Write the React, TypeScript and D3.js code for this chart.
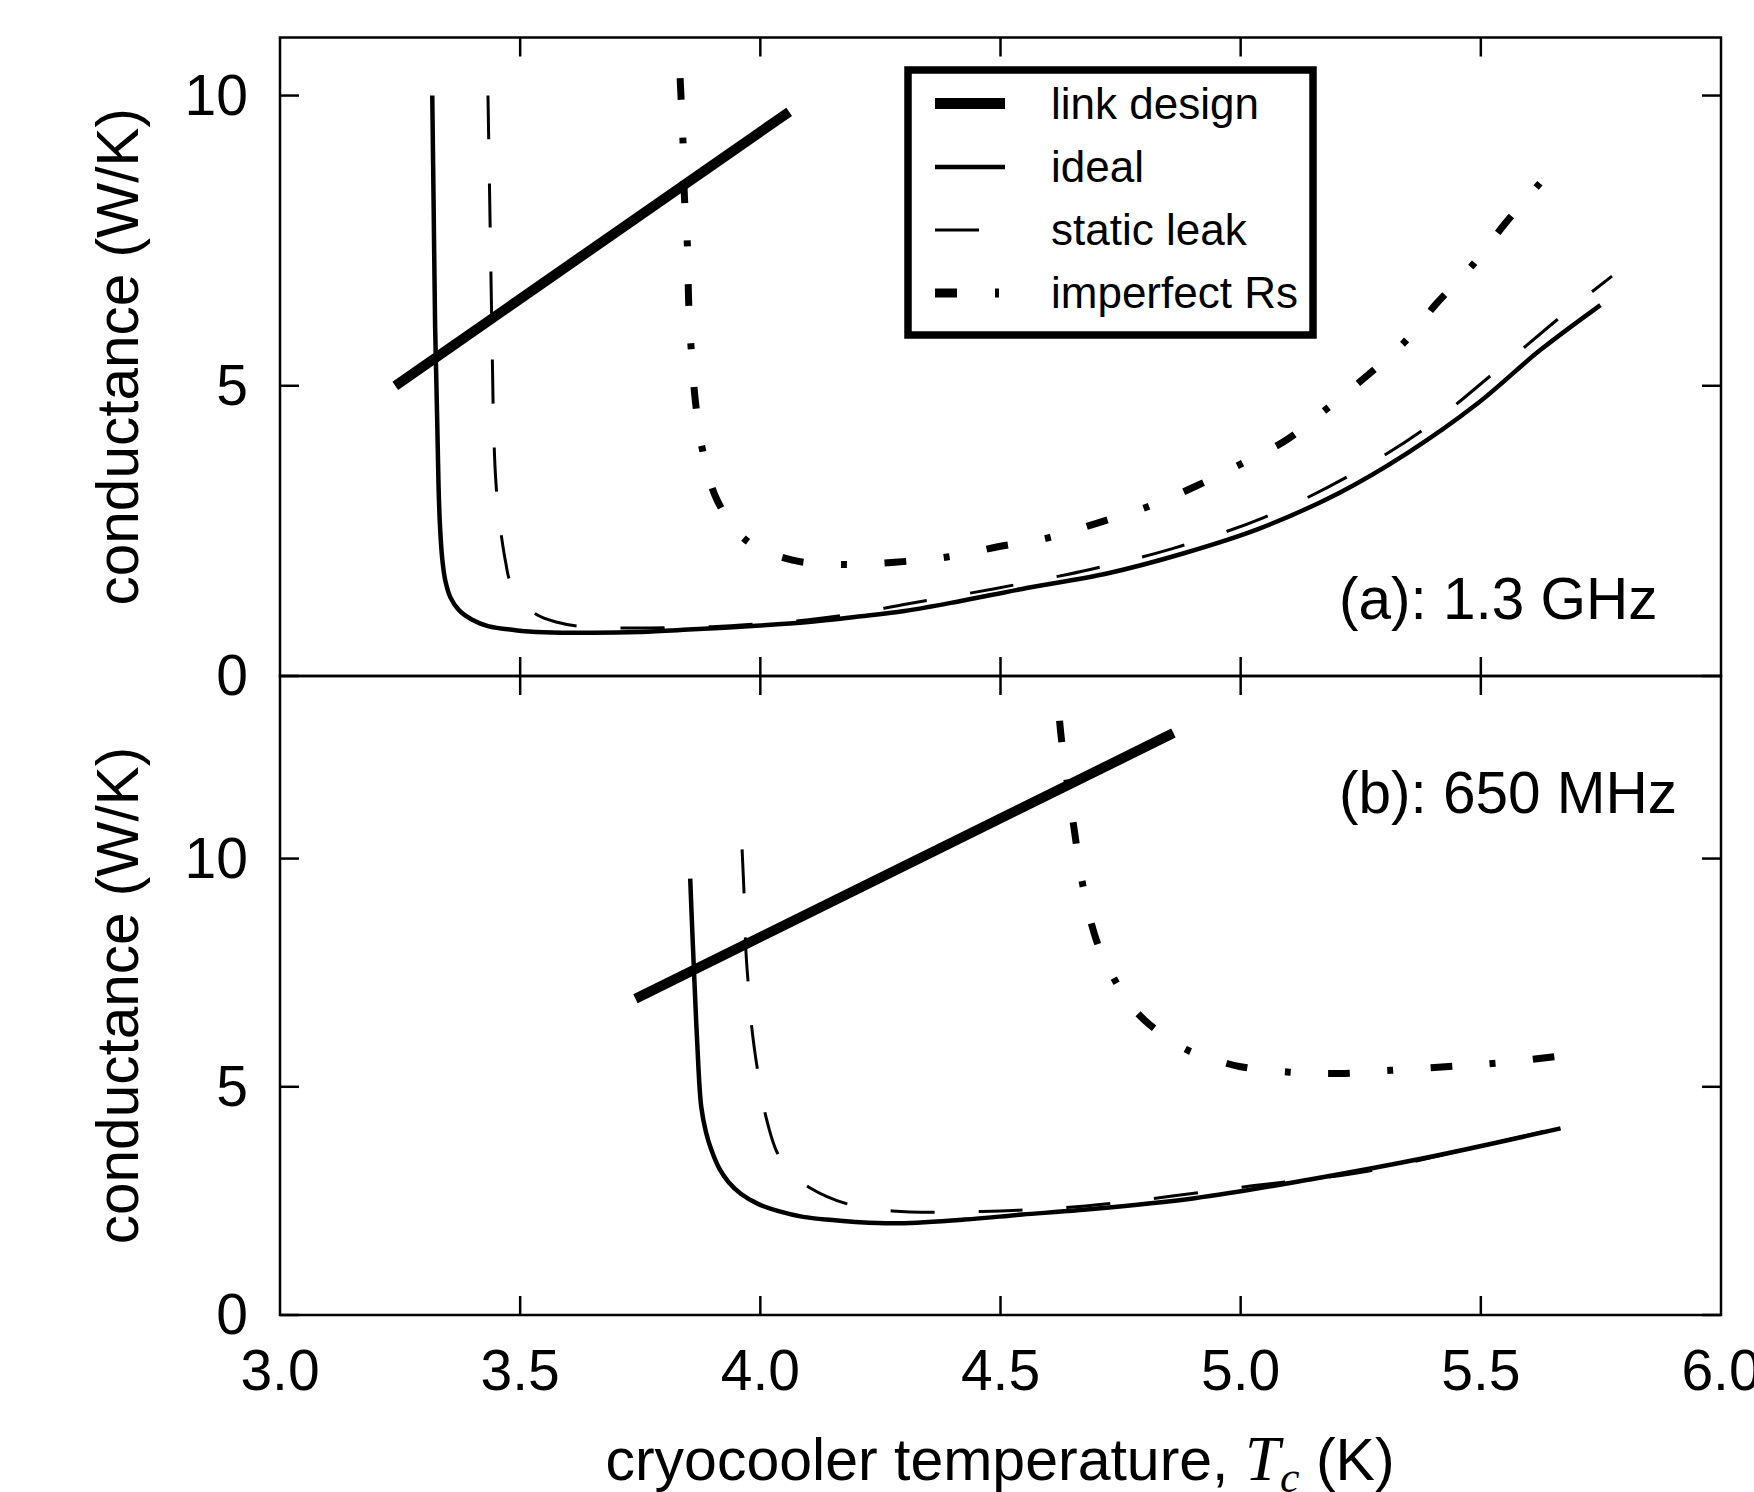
import { useLayoutEffect, useRef, useState } from "react";
import * as d3 from "d3";

const width = 1754;
const height = 1492;

// temperature axis (K) and conductance ticks (W/K)
const tempTicks = [3.0, 3.5, 4.0, 4.5, 5.0, 5.5, 6.0];
const condTicks = [0, 5, 10];

const legendNames = ["link design", "ideal", "static leak", "imperfect Rs"];
const panelLabels = ["(a): 1.3 GHz", "(b): 650 MHz"];

// (a) 1.3 GHz
const topLink = [[3.24, 5.0], [4.06, 9.72]];
const topIdeal = [
  [3.317, 10.0], [3.32, 8.0], [3.323, 6.0], [3.327, 4.5], [3.33, 3.3], [3.333, 2.6],
  [3.338, 2.0], [3.344, 1.65], [3.355, 1.35], [3.373, 1.13], [3.4, 0.97], [3.433, 0.86],
  [3.49, 0.79], [3.55, 0.755], [3.65, 0.745], [3.75, 0.76], [3.85, 0.8], [4.0, 0.87],
  [4.1, 0.93], [4.2, 1.02], [4.3, 1.12], [4.41, 1.28], [4.545, 1.5], [4.724, 1.77],
  [4.88, 2.11], [5.036, 2.53], [5.204, 3.15], [5.347, 3.84], [5.491, 4.68], [5.623, 5.61],
  [5.749, 6.39],
];
const topStatic = [
  [3.433, 10.0], [3.436, 8.5], [3.439, 7.0], [3.442, 5.5], [3.445, 4.2], [3.449, 3.4],
  [3.455, 2.8], [3.462, 2.35], [3.47, 1.95], [3.478, 1.65], [3.5, 1.33], [3.534, 1.06],
  [3.575, 0.93], [3.62, 0.86], [3.7, 0.83], [3.8, 0.83], [3.9, 0.85], [4.0, 0.9],
  [4.1, 0.97], [4.2, 1.08], [4.305, 1.24], [4.485, 1.5], [4.689, 1.84], [4.856, 2.19],
  [5.048, 2.73], [5.228, 3.46], [5.383, 4.26], [5.527, 5.22], [5.671, 6.22], [5.773, 6.89],
];
const topImperfect = [
  [3.833, 10.3], [3.839, 9.2], [3.842, 8.25], [3.848, 7.45], [3.851, 6.4], [3.856, 5.64],
  [3.865, 4.72], [3.88, 3.88], [3.91, 3.03], [3.97, 2.34], [4.065, 2.0], [4.173, 1.92],
  [4.28, 1.96], [4.389, 2.05], [4.497, 2.23], [4.599, 2.38], [4.7, 2.63], [4.808, 2.92],
  [4.904, 3.26], [5.0, 3.65], [5.096, 4.07], [5.18, 4.61], [5.264, 5.18], [5.342, 5.76],
  [5.407, 6.41], [5.485, 7.1], [5.551, 7.8], [5.623, 8.49],
];

// (b) 650 MHz
const bottomLink = [[3.74, 6.93], [4.86, 12.75]];
const bottomIdeal = [
  [3.854, 9.56], [3.858, 8.5], [3.862, 7.5], [3.868, 6.1], [3.877, 4.56], [3.887, 4.0],
  [3.898, 3.62], [3.915, 3.2], [3.934, 2.91], [3.96, 2.65], [3.994, 2.44], [4.04, 2.27],
  [4.089, 2.15], [4.15, 2.08], [4.208, 2.03], [4.289, 2.01], [4.425, 2.09], [4.545, 2.2],
  [4.665, 2.3], [4.904, 2.56], [5.144, 2.97], [5.383, 3.44], [5.666, 4.09],
];
const bottomStatic = [
  [3.962, 10.2], [3.966, 9.26], [3.97, 7.97], [3.976, 7.1], [3.982, 6.32], [3.994, 5.38],
  [4.012, 4.33], [4.035, 3.56], [4.065, 3.1], [4.101, 2.8], [4.179, 2.44], [4.275, 2.28],
  [4.461, 2.27], [4.677, 2.39], [5.024, 2.83], [5.264, 3.15], [5.503, 3.71], [5.666, 4.11],
];
const bottomImperfect = [
  [4.623, 13.02], [4.627, 12.6], [4.64, 11.6], [4.653, 10.67], [4.671, 9.44], [4.7, 8.2],
  [4.739, 7.32], [4.77, 6.8], [4.802, 6.44], [4.85, 6.05], [4.892, 5.79], [4.95, 5.58],
  [5.0, 5.44], [5.102, 5.32], [5.204, 5.29], [5.312, 5.36], [5.426, 5.44], [5.533, 5.52],
  [5.653, 5.66],
];

const styles = [
  { w: 10, dash: undefined, legendDash: undefined },
  { w: 4.5, dash: undefined, legendDash: undefined },
  { w: 3, dash: "44,44", legendDash: "44,44" },
  { w: 7, dash: "22,38,6,38", legendDash: "22,38,4,40" },
];
const dashBase = [22, 38, 6, 38];

const font = "'Liberation Sans', Arial, Helvetica, sans-serif";
const serif = "'Liberation Serif', 'DejaVu Serif', serif";
const x = d3.scaleLinear().domain([3, 6]).range([280, 1721]);
const panels = [
  {
    y: d3.scaleLinear().domain([0, 11]).range([676, 37.5]),
    series: [topLink, topIdeal, topStatic, topImperfect],
    label: panelLabels[0],
    labelY: 619,
    endTail: 66, // pattern ends after dash + gap + dot
  },
  {
    y: d3.scaleLinear().domain([0, 14]).range([1315, 676]),
    series: [bottomLink, bottomIdeal, bottomStatic, bottomImperfect],
    label: panelLabels[1],
    labelY: 813,
    endTail: 22, // pattern ends after a dash
  },
];

const tickLen = 19;

const Panel = ({ p }) => {
  const [y0, y1] = p.y.range();
  const x0 = x(3), x1 = x(6);
  const ref = useRef(null);
  const [dash, setDash] = useState(styles[3].dash);
  const line = d3
    .line()
    .x((d) => x(d[0]))
    .y((d) => p.y(d[1]))
    .curve(d3.curveCatmullRom.alpha(0.5));

  useLayoutEffect(() => {
    if (!ref.current) return;
    const L = ref.current.getTotalLength();
    const period = d3.sum(dashBase);
    const k = Math.max(1, Math.round((L - p.endTail) / period));
    const s = L / (k * period + p.endTail);
    setDash(dashBase.map((v) => (v * s).toFixed(2)).join(","));
  }, []);

  return (
    <g>
      {p.series.map((s, i) => (
        <path
          key={i}
          ref={i === 3 ? ref : undefined}
          d={line(s)}
          fill="none"
          stroke="#000"
          strokeWidth={styles[i].w}
          strokeDasharray={i === 3 ? dash : styles[i].dash}
          strokeLinecap="butt"
        />
      ))}
      <rect x={x0} y={y1} width={x1 - x0} height={y0 - y1} fill="none" stroke="#000" strokeWidth={2.5} />
      {tempTicks.slice(1, -1).map((t) => (
        <g key={t}>
          <line x1={x(t)} x2={x(t)} y1={y0} y2={y0 - tickLen} stroke="#000" strokeWidth={2.5} />
          <line x1={x(t)} x2={x(t)} y1={y1} y2={y1 + tickLen} stroke="#000" strokeWidth={2.5} />
        </g>
      ))}
      {condTicks.map((v) => (
        <g key={v}>
          <line x1={x0} x2={x0 + tickLen} y1={p.y(v)} y2={p.y(v)} stroke="#000" strokeWidth={2.5} />
          <line x1={x1} x2={x1 - tickLen} y1={p.y(v)} y2={p.y(v)} stroke="#000" strokeWidth={2.5} />
          <text x={248} y={p.y(v) + 19} textAnchor="end" fontSize={57} fontFamily={font}>
            {v}
          </text>
        </g>
      ))}
      <text x={1339} y={p.labelY} fontSize={58.5} fontFamily={font}>
        {p.label}
      </text>
      <text
        transform={`translate(138, ${(y0 + y1) / 2}) rotate(-90)`}
        textAnchor="middle"
        fontSize={58.5}
        fontFamily={font}
      >
        conductance (W/K)
      </text>
    </g>
  );
};

const Legend = () => {
  const rowY = [103.5, 167, 230, 293];
  return (
    <g>
      <rect x={908} y={70} width={405} height={265} fill="#fff" stroke="#000" strokeWidth={7.5} />
      {legendNames.map((name, i) => (
        <g key={name}>
          <line
            x1={935}
            x2={1005}
            y1={rowY[i]}
            y2={rowY[i]}
            stroke="#000"
            strokeWidth={i === 0 ? 11 : i === 3 ? 9 : styles[i].w}
            strokeDasharray={styles[i].legendDash}
          />
          <text x={1051} y={rowY[i] + 15} fontSize={44} fontFamily={font}>
            {name}
          </text>
        </g>
      ))}
    </g>
  );
};

export default function App() {
  return (
    <svg
      width={width}
      height={height}
      style={{ position: "absolute", left: 0, top: 0, background: "#fff" }}
    >
      <rect width={width} height={height} fill="#fff" />
      {panels.map((p, i) => (
        <Panel key={i} p={p} />
      ))}
      <Legend />
      {tempTicks.map((t) => (
        <text key={t} x={x(t)} y={1390} textAnchor="middle" fontSize={57} fontFamily={font}>
          {t.toFixed(1)}
        </text>
      ))}
      <text x={1000} y={1480} textAnchor="middle" fontSize={59} fontFamily={font}>
        cryocooler temperature,{" "}
        <tspan fontFamily={serif} fontStyle="italic" fontSize={63}>
          T
        </tspan>
        <tspan fontFamily={serif} fontStyle="italic" fontSize={44} dy={12}>
          c
        </tspan>
        <tspan dy={-12}> (K)</tspan>
      </text>
    </svg>
  );
}
